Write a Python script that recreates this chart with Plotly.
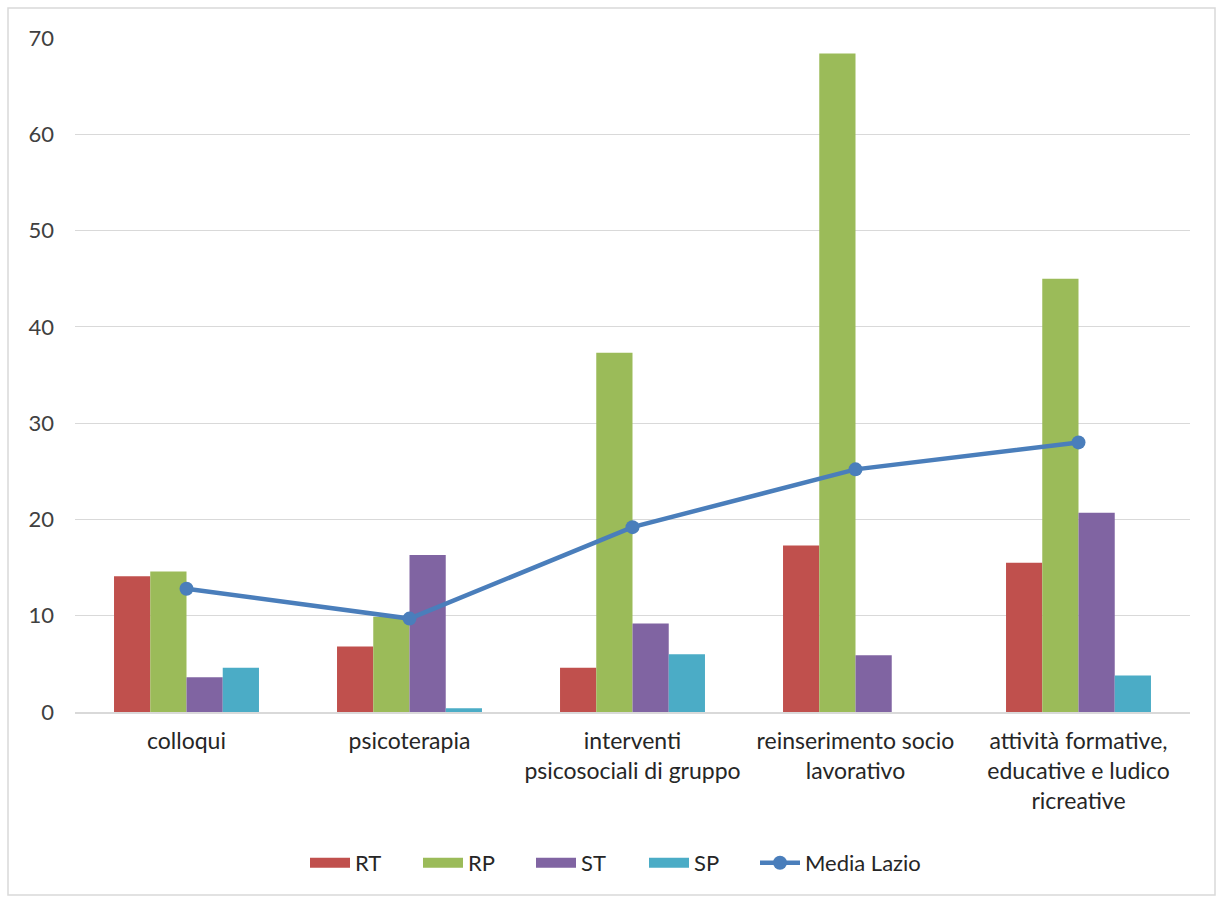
import plotly.graph_objects as go

categories = ["colloqui", "psicoterapia", "interventi<br>psicosociali di gruppo",
              "reinserimento socio<br>lavorativo",
              "attività formative,<br>educative e ludico<br>ricreative"]
rt = [14.1, 6.8, 4.6, 17.3, 15.5]
rp = [14.6, 9.9, 37.3, 68.4, 45.0]
st = [3.6, 16.3, 9.2, 5.9, 20.7]
sp = [4.6, 0.4, 6.0, 0.0, 3.8]
media_lazio = [12.8, 9.7, 19.2, 25.2, 28.0]

FONT = "Lato, 'Open Sans', sans-serif"
BLUE = "#4A7EBB"

fig = go.Figure()
series = [("RT", rt, "#C0504D"), ("RP", rp, "#9BBB59"),
          ("ST", st, "#8064A2"), ("SP", sp, "#4BACC6")]
for name, vals, col in series:
    fig.add_trace(go.Bar(x=categories, y=vals, name=name, marker_color=col,
                         marker_line_width=0, showlegend=False, legendgroup=name))
# legend entries drawn as wide swatches (like the reference)
for name, vals, col in series:
    fig.add_trace(go.Scatter(x=[None], y=[None], name=name, mode="lines",
                             line=dict(color=col, width=13), legendgroup=name,
                             hoverinfo="skip"))
fig.add_trace(go.Scatter(x=categories, y=media_lazio, name="Media Lazio",
                         mode="lines+markers", legend="legend2",
                         line=dict(color=BLUE, width=4.5),
                         marker=dict(size=14, color=BLUE)))

LEG_Y = -0.224
fig.update_layout(
    width=1220, height=900,
    paper_bgcolor="white", plot_bgcolor="white",
    margin=dict(l=75, r=30, t=38, b=188),
    barmode="group", bargap=0.35, bargroupgap=0,
    font=dict(family=FONT, size=19, color="#404040"),
    showlegend=True,
    legend=dict(orientation="h", x=(305 - 75) / 1115, xanchor="left", y=LEG_Y,
                yanchor="middle", font=dict(size=22, color="#262626"),
                traceorder="normal", itemwidth=40, entrywidth=58,
                entrywidthmode="pixels", itemclick=False, itemdoubleclick=False),
    legend2=dict(orientation="h", x=(755 - 75) / 1115, xanchor="left", y=LEG_Y,
                 yanchor="middle", font=dict(size=22, color="#262626"),
                 itemwidth=40, itemclick=False, itemdoubleclick=False),
    xaxis=dict(showgrid=False, showline=True, linecolor="#D9D9D9", linewidth=1.5,
               ticks="", tickfont=dict(size=23, color="#262626"),
               ticklabelstandoff=8),
    yaxis=dict(range=[0, 70], dtick=10, showgrid=True, gridcolor="#D9D9D9",
               gridwidth=1.2, zeroline=False, showline=False,
               tickfont=dict(size=22, color="#404040"), ticklabelstandoff=20),
    shapes=[dict(type="rect", xref="paper", yref="paper",
                 x0=(8 - 75) / 1115, x1=(1215 - 75) / 1115,
                 y0=(712 - 895) / 674, y1=(712 - 8) / 674,
                 line=dict(color="#D9D9D9", width=1.5), layer="below")],
)

fig.write_html("out.html")
